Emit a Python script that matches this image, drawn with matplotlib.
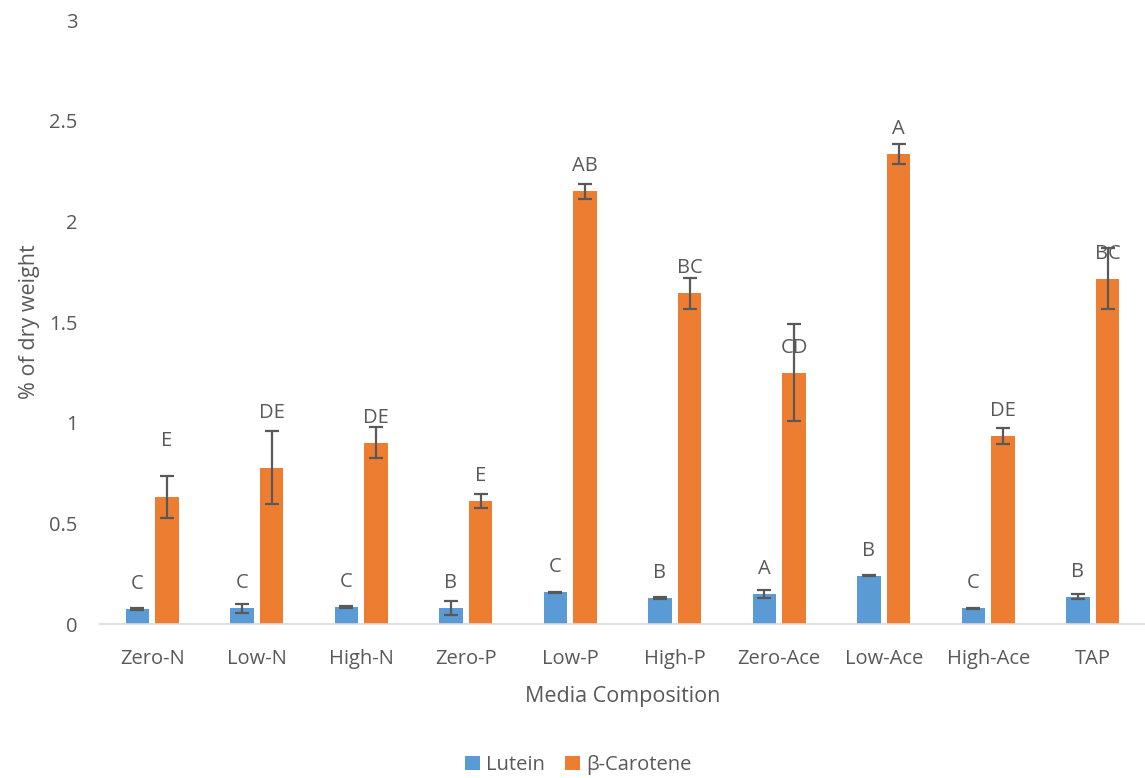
import numpy as np
import matplotlib.pyplot as plt

# media treatments and pigment content (% of dry weight)
media = ["Zero-N", "Low-N", "High-N", "Zero-P", "Low-P",
         "High-P", "Zero-Ace", "Low-Ace", "High-Ace", "TAP"]
lutein = [0.075, 0.077, 0.083, 0.079, 0.157, 0.128, 0.147, 0.240, 0.078, 0.136]
lutein_err = [0.004, 0.020, 0.004, 0.035, 0.004, 0.005, 0.020, 0.004, 0.003, 0.013]
carotene = [0.632, 0.777, 0.901, 0.612, 2.149, 1.642, 1.248, 2.335, 0.935, 1.716]
carotene_err = [0.105, 0.180, 0.075, 0.036, 0.037, 0.077, 0.242, 0.050, 0.040, 0.150]

# significance letters (Duncan groups)
lutein_sig = ["C", "C", "C", "B", "C", "B", "A", "B", "C", "B"]
carotene_sig = ["E", "DE", "DE", "E", "AB", "BC", "CD", "A", "DE", "BC"]

BLUE = "#5B9BD5"
ORANGE = "#ED7D31"
GREY = "#595959"
FONT = "Open Sans"
FS = 14.5

plt.rcParams['font.family'] = [FONT, 'DejaVu Sans']

fig = plt.figure(figsize=(11.45, 7.78), dpi=100)
ax = fig.add_axes([100 / 1145, 1 - 624 / 778, 1045 / 1145, 604 / 778])

x = np.arange(len(media))
w = 0.225
off = 0.142
err_kw = dict(ecolor=GREY, elinewidth=1.6, capsize=5, capthick=1.6)

ax.bar(x - off, lutein, w, color=BLUE, yerr=lutein_err, error_kw=err_kw,
       label="Lutein", zorder=2)
ax.bar(x + off, carotene, w, color=ORANGE, yerr=carotene_err, error_kw=err_kw,
       label="β-Carotene", zorder=2)

# letters sit a fixed distance above each bar; two were nudged higher
lift_car = [31, 30, 0, 0, 0, 0, 0, 0, 0, 0]
for i in range(len(media)):
    ax.annotate(lutein_sig[i], (x[i] - off, lutein[i]), xytext=(0, 25),
                textcoords="offset pixels", ha="center", va="center",
                fontsize=FS, color=GREY)
    ax.annotate(carotene_sig[i], (x[i] + off, carotene[i]),
                xytext=(0, 25 + lift_car[i]), textcoords="offset pixels",
                ha="center", va="center", fontsize=FS, color=GREY)

ax.set_xlim(-0.5, len(media) - 0.5)
ax.set_ylim(0, 3)
ax.set_yticks([0, 0.5, 1, 1.5, 2, 2.5, 3])
ax.set_yticklabels(["0", "0.5", "1", "1.5", "2", "2.5", "3"])
ax.set_xticks(x)
ax.set_xticklabels(media)
ax.tick_params(axis="both", length=0, labelsize=FS, labelcolor=GREY)
ax.tick_params(axis="y", pad=16)
ax.tick_params(axis="x", pad=18)

for s in ["top", "right", "left"]:
    ax.spines[s].set_visible(False)
ax.spines["bottom"].set_color("#D9D9D9")
ax.spines["bottom"].set_linewidth(1.2)

ax.set_xlabel("Media Composition", fontsize=15.5, color=GREY, labelpad=12)
ax.set_ylabel("% of dry weight", fontsize=15.5, color=GREY, labelpad=7)

fig.legend(loc="center", bbox_to_anchor=(578 / 1145, 1 - 765 / 778), ncol=2,
           frameon=False, fontsize=FS, labelcolor=GREY, handlelength=0.75,
           handleheight=0.75, handletextpad=0.3, columnspacing=1.0)

fig.savefig("out.png", dpi=100)
